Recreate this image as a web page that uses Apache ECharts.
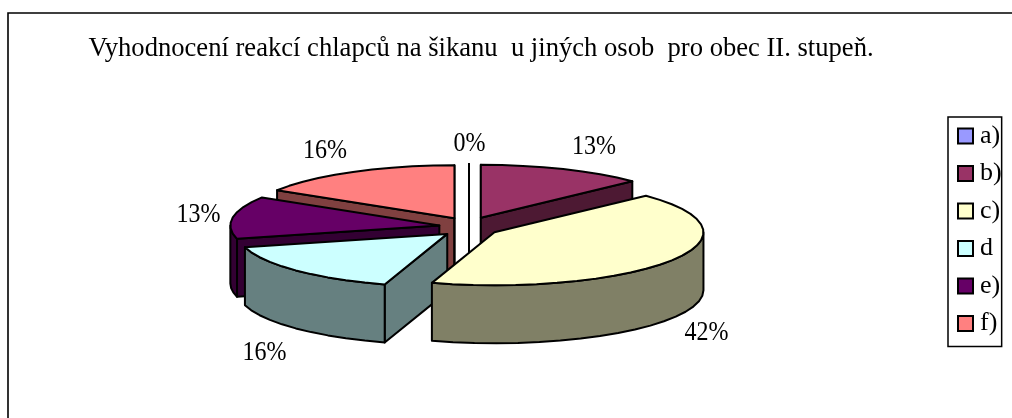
<!DOCTYPE html>
<html><head><meta charset="utf-8">
<style>html,body{margin:0;padding:0;background:#fff}#c{width:1012px;height:418px}</style>
<script src="https://cdn.jsdelivr.net/npm/echarts@6/dist/echarts.min.js"></script>
</head><body><div id="c"></div>
<script>
const titleText = 'Vyhodnocení reakcí chlapců na šikanu  u jiných osob  pro obec II. stupeň.';
const categories = ['a)', 'b)', 'c)', 'd', 'e)', 'f)'];
const values = [0, 4, 13, 5, 4, 5];
const topColors = ['#9999FF', '#993366', '#FFFFCC', '#CCFFFF', '#660066', '#FF8080'];
const sideColors = ['#4D4D80', '#4D1933', '#808066', '#668080', '#330033', '#804040'];
const paintOrder = [5, 4, 0, 1, 3, 2];
const labelAt = [[469.5, 143.5], [594, 146.5], [706.5, 332.5], [264.5, 352.5], [198.5, 215], [325, 151]];

const FONT = '"Liberation Serif","Times New Roman",serif';
const cx = 469, cy = 227, rx = 209, ry = 53, depth = 58, popX = 30, popY = 10;
const total = values.reduce((a, b) => a + b, 0);
const D2R = Math.PI / 180;

function slice(i) {
  let before = 0;
  for (let k = 0; k < i; k++) before += values[k];
  const a0 = before / total * 360, a1 = (before + values[i]) / total * 360, mid = (a0 + a1) / 2;
  const ox = cx + popX * Math.sin(mid * D2R), oy = cy - popY * Math.cos(mid * D2R);
  return { a0, a1, mid, ox, oy };
}
function rim(s, a, dy) {
  return [s.ox + rx * Math.sin(a * D2R), s.oy - ry * Math.cos(a * D2R) + (dy || 0)];
}
function arcPts(s, a0, a1, dy) {
  const n = Math.max(1, Math.ceil((a1 - a0) / 6)), pts = [];
  for (let k = 0; k <= n; k++) pts.push(rim(s, a0 + (a1 - a0) * k / n, dy));
  return pts;
}
function renderSlice(i) {
  return function () {
    const s = slice(i), kids = [], side = sideColors[i], top = topColors[i];
    const stroke = { stroke: '#000', lineWidth: 2, lineJoin: 'round' };
    const poly = (points, fill) => ({ type: 'polygon', shape: { points }, style: Object.assign({ fill }, stroke) });
    const wall = a => {
      const p = rim(s, a);
      return poly([[s.ox, s.oy], p, [p[0], p[1] + depth], [s.ox, s.oy + depth]], side);
    };
    if (Math.sin(s.a0 * D2R) <= 1e-9) kids.push(wall(s.a0));
    if (Math.sin(s.a1 * D2R) >= -1e-9) kids.push(wall(s.a1));
    const f0 = Math.max(s.a0, 90), f1 = Math.min(s.a1, 270);
    if (f1 > f0) {
      const up = arcPts(s, f0, f1, 0), down = arcPts(s, f0, f1, depth).reverse();
      kids.push(poly(up.concat(down), side));
    }
    kids.push(poly([[s.ox, s.oy]].concat(arcPts(s, s.a0, s.a1, 0)), top));
    return { type: 'group', children: kids };
  };
}
const series = categories.map((name, i) => ({
  type: 'custom', name, coordinateSystem: 'none', silent: true,
  z: 2 + paintOrder.indexOf(i),
  itemStyle: { color: topColors[i] },
  data: [[values[i]]],
  renderItem: renderSlice(i),
  animation: false
}));
const chart = echarts.init(document.getElementById('c'), null, { renderer: 'canvas' });
chart.setOption({
  animation: false,
  backgroundColor: '#fff',
  legend: {
    orient: 'vertical', left: 948, top: 117, padding: [6, 0, 10, 9], itemWidth: 15, itemHeight: 15, itemGap: 11.5,
    borderColor: '#000', borderWidth: 1.5, icon: 'rect', data: categories, selectedMode: false,
    itemStyle: { borderColor: '#000', borderWidth: 2 },
    textStyle: { fontFamily: FONT, fontSize: 26, color: '#000', lineHeight: 15, padding: [0, 0, 0, 2] }
  },
  graphic: [
    { type: 'rect', silent: true, z: 0, shape: { x: 8, y: 13, width: 1200, height: 600 }, style: { fill: null, stroke: '#000', lineWidth: 1.6 } },
    { type: 'text', silent: true, z: 50, x: 88.5, y: 49, scaleX: 0.985,
      style: { text: titleText, fontFamily: FONT, fontSize: 27, fill: '#000', align: 'left', verticalAlign: 'middle' } }
  ].concat(values.map((v, i) => ({
      type: 'text', silent: true, z: 50, x: labelAt[i][0], y: labelAt[i][1], scaleX: 0.89,
      style: { text: Math.round(v / total * 100) + '%', fontFamily: FONT, fontSize: 27, fill: '#000', align: 'center', verticalAlign: 'middle' }
    }))),
  series
});
</script></body></html>
